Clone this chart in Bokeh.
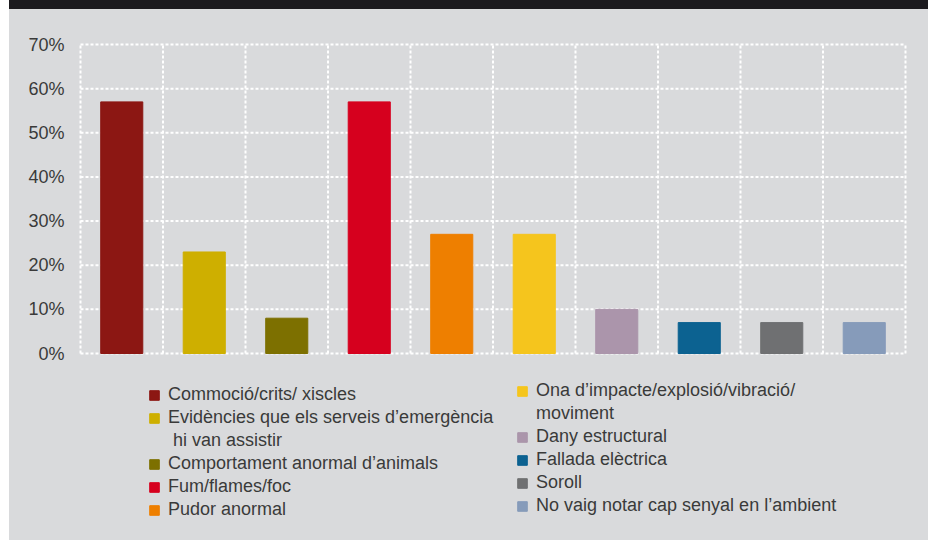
from bokeh.plotting import figure
from bokeh.layouts import column
from bokeh.models import (ColumnDataSource, Range1d, FixedTicker, PrintfTickFormatter,
                          Legend, LegendItem, Div)
from bokeh.embed import file_html
from bokeh.resources import INLINE

labels = [
    "Commoció/crits/ xiscles",
    "Evidències que els serveis d’emergència\n hi van assistir",
    "Comportament anormal d’animals",
    "Fum/flames/foc",
    "Pudor anormal",
    "Ona d’impacte/explosió/vibració/\nmoviment",
    "Dany estructural",
    "Fallada elèctrica",
    "Soroll",
    "No vaig notar cap senyal en l’ambient",
]
values = [57, 23, 8, 57, 27, 27, 10, 7, 7, 7]
colors = ["#8C1713", "#CEAF00", "#7D7000", "#D6001E", "#EE7F00",
          "#F5C51D", "#AB95AB", "#0C6291", "#6F7072", "#869BBA"]
y_ticks = [0, 10, 20, 30, 40, 50, 60, 70]

BG = "#D9DADC"
BAND = "#1B1A1E"
TXT = "#3A3A3A"
FONT = "Liberation Sans"

n = len(values)
ymax = y_ticks[-1]
src = ColumnDataSource(dict(x=[i + 0.5 for i in range(n)], top=values,
                            color=colors))

# dark header band above the panel
band = Div(text="", width=919, height=9, margin=(0, 0, 0, 9),
           styles={"background-color": BAND})

# main panel; frame extends below the value axis so the legend lives inside it
p = figure(width=919, height=531, output_backend="svg", toolbar_location=None,
           x_axis_location=None, margin=(0, 0, 0, 9),
           x_range=Range1d(-0.0364, n + 0.0364), y_range=Range1d(-42.36, ymax + 0.68),
           min_border_left=68, min_border_right=20, min_border_top=32,
           min_border_bottom=0)
p.styles = {"background-color": BG}
p.background_fill_alpha = 0
p.border_fill_alpha = 0
p.outline_line_color = None
p.xgrid.visible = False
p.ygrid.visible = False

# dotted white grid, limited to the plotting box
vx = list(range(n + 1))
p.segment(x0=vx, x1=vx, y0=[0] * len(vx), y1=[ymax] * len(vx),
          line_color="white", line_width=2, line_dash="3 2")
p.segment(x0=[0] * len(y_ticks), x1=[n] * len(y_ticks), y0=y_ticks, y1=y_ticks,
          line_color="white", line_width=2, line_dash="3 2")

r = p.vbar(x="x", top="top", bottom=0, width=0.51, color="color", source=src)
# invisible glyph used for the continuation lines of two-line legend entries
blank = p.vbar(x=[], top=[], width=0.5, fill_alpha=0, line_alpha=0)

p.yaxis.ticker = FixedTicker(ticks=y_ticks)
p.yaxis.formatter = PrintfTickFormatter(format="%d%%")
p.yaxis.axis_line_color = None
p.yaxis.major_tick_line_color = None
p.yaxis.minor_tick_line_color = None
p.yaxis.major_tick_out = 0
p.yaxis.major_label_standoff = 13
p.yaxis.major_label_text_font = FONT
p.yaxis.major_label_text_font_size = "18px"
p.yaxis.major_label_text_color = TXT


def make_legend(idx, loc):
    items = []
    for i in idx:
        lines = labels[i].split("\n")
        items.append(LegendItem(label=lines[0], renderers=[r], index=i))
        for extra in lines[1:]:
            items.append(LegendItem(label=extra, renderers=[blank]))
    return Legend(items=items, location=loc, orientation="vertical",
                  background_fill_alpha=0, border_line_alpha=0,
                  padding=0, margin=0, spacing=2,
                  glyph_width=12, glyph_height=12, label_standoff=8,
                  label_height=20,
                  label_text_font=FONT, label_text_font_size="18px",
                  label_text_color=TXT)


p.add_layout(make_legend(range(0, 5), (71, 20)))
p.add_layout(make_legend(range(5, 10), (439, 24)))

layout = column(band, p, spacing=0)
open("out.html", "w").write(file_html(layout, INLINE))
